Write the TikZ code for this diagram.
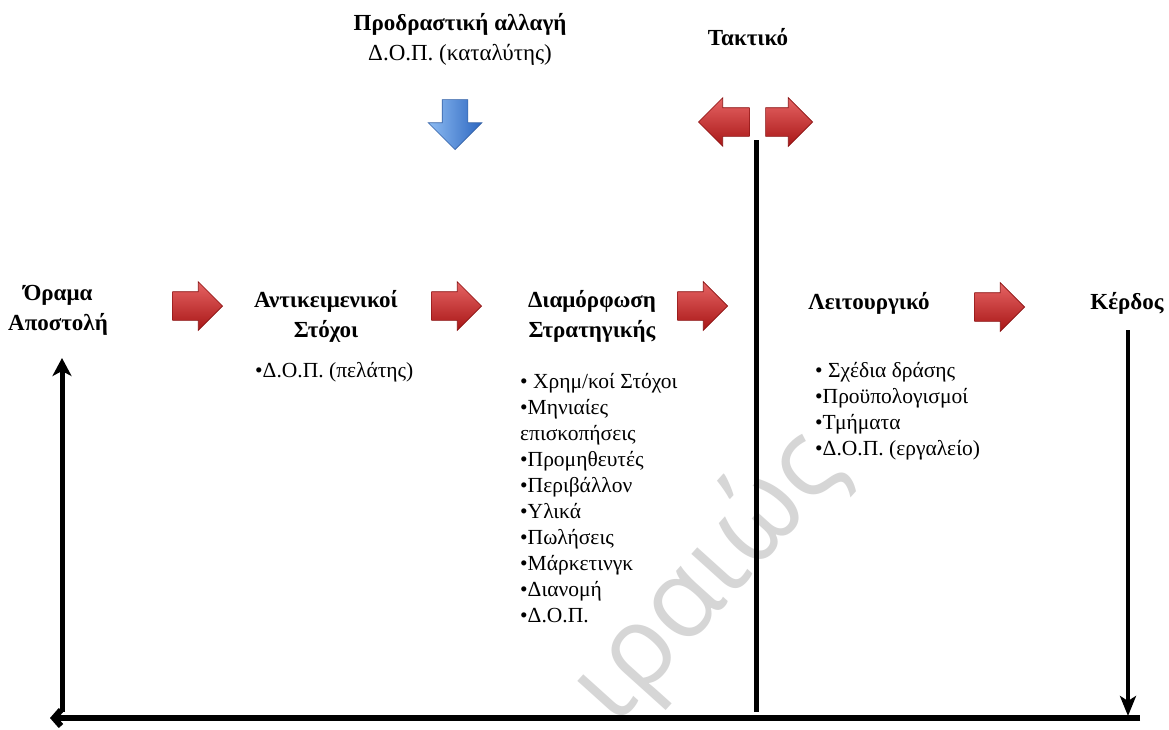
\documentclass[tikz,border=0pt]{standalone}
\usepackage{fontspec}
\setmainfont{Liberation Serif}
\newfontfamily\wmfont{Open Sans}
\usetikzlibrary{arrows.meta,shapes.arrows}

\definecolor{arrowtop}{HTML}{E66464}
\definecolor{arrowbot}{HTML}{A81616}
\definecolor{arrowedge}{HTML}{8A1212}
\definecolor{blueleft}{HTML}{8EBCF2}
\definecolor{blueright}{HTML}{2C66C0}
\definecolor{blueedge}{HTML}{3562A6}

\begin{document}
\begin{tikzpicture}[x=1pt,y=-1pt,
  title/.style={font=\fontsize{23}{30}\selectfont\bfseries, align=center, inner sep=0pt},
  plain/.style={font=\fontsize{21.5}{26}\selectfont, align=left, inner sep=0pt},
  wmark/.style={font=\wmfont\fontsize{110}{110}\selectfont, text=gray!32, inner sep=0pt},
  redarrow/.style={single arrow, single arrow head extend=10pt, inner xsep=0pt,
    inner ysep=14pt, minimum height=50pt, top color=arrowtop, bottom color=arrowbot,
    draw=arrowedge, line width=0.6pt, anchor=tip},
  bluearrow/.style={single arrow, single arrow head extend=14pt, inner sep=12.5pt,
    minimum height=50pt, shape border rotate=270, anchor=tip,
    left color=blueleft, right color=blueright, draw=blueedge, line width=0.6pt},
  flow/.style={line width=5pt}
]
\useasboundingbox (0,0) rectangle (1169,729);
\fill[white] (0,0) rectangle (1169,729);

% faint watermark
\node[wmark, rotate=48] (wm) at (708,578) {ιραιώς};

% headings
\node[title] (pro) at (460,39) {Προδραστική αλλαγή\\\mdseries Δ.Ο.Π. (καταλύτης)};
\node[title] (takt) at (748,37) {Τακτικό};
\node[title] (orama) at (58,310) {Όραμα\\Αποστολή};
\node[title] (antik) at (326,316) {Αντικειμενικοί\\Στόχοι};
\node[title] (diam) at (592,316) {Διαμόρφωση\\Στρατηγικής};
\node[title] (leit) at (869,303) {Λειτουργικό};
\node[title] (kerd) at (1127,303) {Κέρδος};

% item lists
\node[plain, anchor=base west] (dop) at (255,377) {•Δ.Ο.Π. (πελάτης)};
\node[plain, anchor=north west] (list1) at (520,373) {• Χρημ/κοί Στόχοι\\•Μηνιαίες\\επισκοπήσεις\\•Προμηθευτές\\•Περιβάλλον\\•Υλικά\\•Πωλήσεις\\•Μάρκετινγκ\\•Διανομή\\•Δ.Ο.Π.};
\node[plain, anchor=north west] (list2) at (815,362) {• Σχέδια δράσης\\•Προϋπολογισμοί\\•Τμήματα\\•Δ.Ο.Π. (εργαλείο)};

% block arrows (placed by their tips)
\node[bluearrow] (down) at (455,150) {};
\node[redarrow, shape border rotate=180, minimum height=51pt] (tleft) at (698,122) {};
\node[redarrow, minimum height=47pt] (tright) at (813,122) {};
\node[redarrow] (r1) at (223,306) {};
\node[redarrow] (r2) at (482,306) {};
\node[redarrow] (r3) at (728,306) {};
\node[redarrow] (r4) at (1025,307) {};

% feedback loop
\coordinate (ktop) at (1128,330);
\coordinate (kbot) at (1128,716);
\coordinate (bright) at (1140,718);
\coordinate (bleft) at (50,718);
\coordinate (lbot) at (62,712);
\coordinate (ltop) at (62,358);
\coordinate (ttop) at (756,140);
\coordinate (tbot) at (756,712);

\draw[line width=4pt, -{Stealth[length=20pt,width=16pt,inset=5pt]}] (ktop) -- (kbot);
\draw[line width=6pt, -{Straight Barb[length=7pt,width=16pt]}] (bright) -- (bleft);
\draw[flow, -{Stealth[length=18pt,width=19pt,inset=5pt]}] (lbot) -- (ltop);
\draw[flow] (ttop) -- (tbot);
\end{tikzpicture}
\end{document}
